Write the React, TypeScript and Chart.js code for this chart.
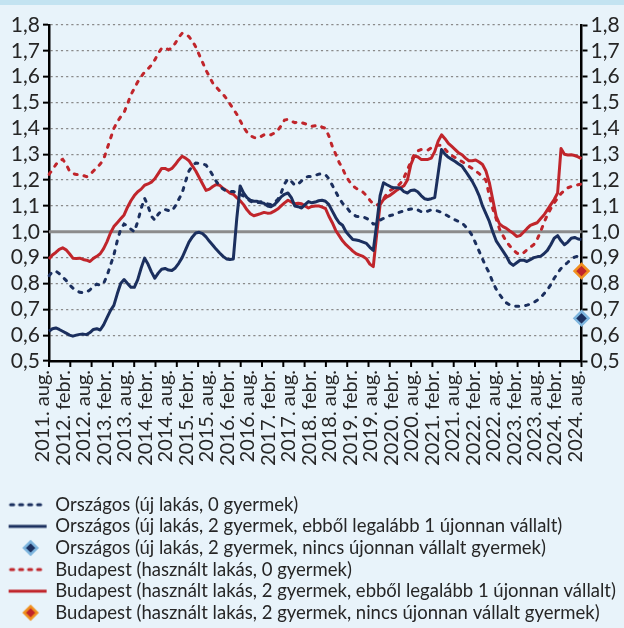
import React, { useEffect, useRef } from 'react';
import { Chart, registerables } from 'chart.js';

Chart.register(...registerables);

// ---------- categories (monthly, 2011. aug. – 2024. aug.) ----------
const HU_MONTHS = ['jan.', 'febr.', 'márc.', 'ápr.', 'máj.', 'jún.', 'júl.', 'aug.', 'szept.', 'okt.', 'nov.', 'dec.'];
const START_YEAR = 2011;
const START_MONTH = 7; // aug.
const N_MONTHS = 157;
const months: string[] = Array.from({ length: N_MONTHS }, (_, i) => {
  const m = START_MONTH + i;
  return `${START_YEAR + Math.floor(m / 12)}. ${HU_MONTHS[m % 12]}`;
});
const LABEL_EVERY = 6; // febr. / aug.
const X_TICK_DIVISIONS = 25;

// ---------- series ----------
const orszagosUj0 = [
  0.830, 0.845, 0.848, 0.838, 0.825, 0.812, 0.795, 0.782, 0.772, 0.766, 0.764, 0.766,
  0.775, 0.790, 0.797, 0.793, 0.800, 0.830, 0.870, 0.910, 0.965, 1.010, 1.030, 1.022,
  1.010, 1.000, 1.040, 1.090, 1.130, 1.100, 1.060, 1.045, 1.068, 1.082, 1.086, 1.082,
  1.080, 1.100, 1.125, 1.150, 1.195, 1.235, 1.255, 1.266, 1.265, 1.262, 1.258, 1.240,
  1.218, 1.195, 1.176, 1.165, 1.157, 1.156, 1.156, 1.150, 1.145, 1.138, 1.128, 1.118,
  1.112, 1.112, 1.116, 1.115, 1.108, 1.105, 1.112, 1.125, 1.150, 1.185, 1.205, 1.195,
  1.180, 1.185, 1.197, 1.210, 1.214, 1.214, 1.218, 1.223, 1.224, 1.221, 1.205, 1.180,
  1.155, 1.130, 1.110, 1.098, 1.080, 1.068, 1.060, 1.058, 1.058, 1.052, 1.045, 1.030,
  1.030, 1.045, 1.052, 1.058, 1.063, 1.066, 1.072, 1.077, 1.080, 1.085, 1.088, 1.090,
  1.085, 1.078, 1.075, 1.080, 1.085, 1.083, 1.080, 1.075, 1.068, 1.060, 1.052, 1.046,
  1.040, 1.035, 1.020, 1.005, 0.985, 0.955, 0.925, 0.895, 0.865, 0.840, 0.805, 0.778,
  0.757, 0.740, 0.725, 0.717, 0.713, 0.712, 0.712, 0.713, 0.716, 0.720, 0.726, 0.735,
  0.745, 0.760, 0.775, 0.795, 0.820, 0.840, 0.858, 0.870, 0.882, 0.895, 0.902, 0.906,
  0.910,
];

const orszagosUj2Vallalt = [
  0.615, 0.625, 0.628, 0.622, 0.615, 0.608, 0.600, 0.596, 0.600, 0.603, 0.604, 0.602,
  0.610, 0.622, 0.625, 0.620, 0.640, 0.668, 0.695, 0.715, 0.760, 0.800, 0.815, 0.800,
  0.785, 0.785, 0.815, 0.860, 0.898, 0.875, 0.845, 0.820, 0.840, 0.855, 0.858, 0.852,
  0.850, 0.860, 0.878, 0.900, 0.930, 0.960, 0.980, 0.995, 0.998, 0.993, 0.980, 0.963,
  0.948, 0.932, 0.918, 0.905, 0.895, 0.893, 0.895, 1.050, 1.177, 1.150, 1.132, 1.122,
  1.118, 1.118, 1.112, 1.110, 1.100, 1.097, 1.105, 1.118, 1.135, 1.145, 1.150, 1.132,
  1.100, 1.097, 1.092, 1.105, 1.117, 1.112, 1.115, 1.120, 1.122, 1.118, 1.105, 1.080,
  1.055, 1.035, 1.025, 1.000, 0.985, 0.970, 0.968, 0.965, 0.960, 0.955, 0.940, 0.928,
  1.030, 1.140, 1.190, 1.182, 1.175, 1.170, 1.170, 1.168, 1.155, 1.150, 1.160, 1.162,
  1.155, 1.140, 1.128, 1.125, 1.128, 1.132, 1.225, 1.318, 1.300, 1.288, 1.280, 1.272,
  1.262, 1.254, 1.235, 1.215, 1.195, 1.170, 1.140, 1.100, 1.070, 1.040, 1.000, 0.965,
  0.945, 0.925, 0.905, 0.880, 0.870, 0.880, 0.890, 0.890, 0.885, 0.892, 0.900, 0.903,
  0.905, 0.915, 0.928, 0.950, 0.975, 0.985, 0.965, 0.950, 0.960, 0.975, 0.978, 0.972,
  0.970,
];

const orszagosUj2Nincs = 0.665; // 2024. aug.

const budapestHasznalt0 = [
  1.222, 1.240, 1.260, 1.275, 1.280, 1.262, 1.235, 1.225, 1.222, 1.222, 1.218, 1.213,
  1.220, 1.235, 1.248, 1.262, 1.280, 1.320, 1.360, 1.400, 1.425, 1.445, 1.462, 1.495,
  1.530, 1.555, 1.580, 1.600, 1.618, 1.630, 1.645, 1.665, 1.690, 1.710, 1.712, 1.705,
  1.710, 1.730, 1.752, 1.768, 1.765, 1.755, 1.738, 1.715, 1.685, 1.655, 1.625, 1.600,
  1.575, 1.560, 1.545, 1.532, 1.515, 1.495, 1.475, 1.455, 1.430, 1.405, 1.385, 1.372,
  1.365, 1.362, 1.368, 1.375, 1.378, 1.375, 1.382, 1.392, 1.410, 1.432, 1.435, 1.428,
  1.422, 1.425, 1.422, 1.418, 1.412, 1.408, 1.410, 1.412, 1.405, 1.400, 1.370, 1.330,
  1.300, 1.268, 1.245, 1.215, 1.195, 1.178, 1.168, 1.160, 1.153, 1.140, 1.122, 1.108,
  1.103, 1.110, 1.128, 1.148, 1.160, 1.168, 1.175, 1.188, 1.210, 1.240, 1.270, 1.300,
  1.313, 1.318, 1.317, 1.316, 1.325, 1.330, 1.335, 1.335, 1.320, 1.305, 1.295, 1.287,
  1.278, 1.272, 1.262, 1.253, 1.245, 1.235, 1.225, 1.212, 1.200, 1.140, 1.090, 1.050,
  1.010, 0.985, 0.962, 0.945, 0.930, 0.918, 0.912, 0.918, 0.930, 0.940, 0.950, 0.970,
  1.000, 1.035, 1.065, 1.090, 1.112, 1.130, 1.148, 1.160, 1.170, 1.175, 1.178, 1.182,
  1.185,
];

const budapestHasznalt2Vallalt = [
  0.895, 0.910, 0.920, 0.932, 0.938, 0.930, 0.915, 0.898, 0.897, 0.898, 0.893, 0.890,
  0.885, 0.897, 0.905, 0.915, 0.935, 0.962, 0.995, 1.020, 1.035, 1.050, 1.065, 1.095,
  1.120, 1.140, 1.155, 1.165, 1.180, 1.185, 1.192, 1.205, 1.225, 1.245, 1.245, 1.238,
  1.245, 1.260, 1.278, 1.292, 1.285, 1.275, 1.255, 1.235, 1.210, 1.185, 1.160, 1.165,
  1.175, 1.183, 1.180, 1.168, 1.160, 1.150, 1.145, 1.132, 1.120, 1.105, 1.085, 1.070,
  1.062, 1.066, 1.070, 1.075, 1.072, 1.073, 1.080, 1.088, 1.100, 1.112, 1.122, 1.115,
  1.108, 1.110, 1.108, 1.100, 1.092, 1.098, 1.100, 1.100, 1.095, 1.090, 1.060, 1.035,
  1.005, 0.985, 0.965, 0.950, 0.938, 0.925, 0.915, 0.910, 0.905, 0.895, 0.875, 0.865,
  0.990, 1.105, 1.125, 1.135, 1.142, 1.152, 1.162, 1.170, 1.178, 1.200, 1.260, 1.292,
  1.290, 1.280, 1.280, 1.280, 1.285, 1.310, 1.350, 1.375, 1.360, 1.342, 1.330, 1.318,
  1.305, 1.298, 1.285, 1.275, 1.275, 1.278, 1.270, 1.260, 1.235, 1.190, 1.125, 1.060,
  1.030, 1.020, 1.013, 1.003, 0.994, 0.982, 0.985, 0.998, 1.012, 1.025, 1.030, 1.035,
  1.050, 1.065, 1.085, 1.105, 1.125, 1.150, 1.322, 1.300, 1.297, 1.298, 1.295, 1.290,
  1.283,
];

const budapestHasznalt2Nincs = 0.848; // 2024. aug.

const SERIES_LABELS = [
  'Országos (új lakás, 0 gyermek)',
  'Országos (új lakás, 2 gyermek, ebből legalább 1 újonnan vállalt)',
  'Országos (új lakás, 2 gyermek, nincs újonnan vállalt gyermek)',
  'Budapest (használt lakás, 0 gyermek)',
  'Budapest (használt lakás, 2 gyermek, ebből legalább 1 újonnan vállalt)',
  'Budapest (használt lakás, 2 gyermek, nincs újonnan vállalt gyermek)',
];

const Y_MIN = 0.5;
const Y_MAX = 1.8;
const Y_STEP = 0.1;
const REF_VALUE = 1.0;

// ---------- style ----------
const BG = '#e8f3fa';
const TOP_BAND = '#c3e3f1';
const NAVY = '#1b2f5e';
const RED = '#c0252b';
const LIGHT_BLUE = '#7db5de';
const ORANGE = '#f0901e';
const GRID = '#8a8a8a';
const TEXT = '#262626';
const FONT = 'Lato, "Open Sans", sans-serif';
const LINE_W = 3;
const DASH = [3, 7];

const CANVAS_W = 624;
const CANVAS_H = 632;
const LEGEND_FONT = 18.5;
const LEGEND_PAD = 3.1;
const PLOT_TOP = 25;
const PLOT_BOTTOM = 361;
const PLOT_LEFT = 49;
const PLOT_RIGHT = 581.5;
const TICK_FONT = 21;

function makeMarker(kind: 'dash' | 'solid' | 'diamond', stroke: string, fill?: string) {
  const c = document.createElement('canvas');
  c.width = 52;
  c.height = 18;
  const g = c.getContext('2d')!;
  if (kind === 'diamond') {
    const cx = 32, cy = 9, r = 6.5;
    g.beginPath();
    g.moveTo(cx - r, cy);
    g.lineTo(cx, cy - r);
    g.lineTo(cx + r, cy);
    g.lineTo(cx, cy + r);
    g.closePath();
    g.fillStyle = fill || stroke;
    g.fill();
    g.lineWidth = 2.5;
    g.strokeStyle = stroke;
    g.stroke();
  } else {
    g.beginPath();
    g.strokeStyle = stroke;
    g.lineWidth = LINE_W;
    if (kind === 'dash') {
      g.setLineDash([3, 6]);
      g.lineCap = 'round';
      g.moveTo(12, 9);
    } else {
      g.moveTo(10, 9);
    }
    g.lineTo(48, 9);
    g.stroke();
  }
  return c;
}

const extrasPlugin = {
  id: 'extras',
  beforeDatasetsDraw(chart: any) {
    const { ctx, chartArea, scales } = chart;
    const y = scales.y.getPixelForValue(REF_VALUE);
    ctx.save();
    ctx.strokeStyle = '#8c8c8c';
    ctx.lineWidth = 3;
    ctx.beginPath();
    ctx.moveTo(chartArea.left, y);
    ctx.lineTo(chartArea.right, y);
    ctx.stroke();
    ctx.restore();
  },
  afterDraw(chart: any) {
    const { ctx, chartArea } = chart;
    ctx.save();
    ctx.strokeStyle = '#000';
    ctx.lineWidth = 2;
    for (let k = 0; k <= X_TICK_DIVISIONS; k++) {
      const x = chartArea.left + ((chartArea.right - chartArea.left) * k) / X_TICK_DIVISIONS;
      ctx.beginPath();
      ctx.moveTo(x, chartArea.bottom);
      ctx.lineTo(x, chartArea.bottom + 6);
      ctx.stroke();
    }
    ctx.restore();
  },
};

export default function App() {
  const canvasRef = useRef<HTMLCanvasElement | null>(null);

  useEffect(() => {
    let chart: Chart | null = null;
    let cancelled = false;

    const build = () => {
      if (cancelled || !canvasRef.current) return;
      Chart.defaults.font.family = FONT;
      Chart.defaults.color = TEXT;

      const markers = [
        makeMarker('dash', NAVY),
        makeMarker('solid', NAVY),
        makeMarker('diamond', LIGHT_BLUE, NAVY),
        makeMarker('dash', RED),
        makeMarker('solid', RED),
        makeMarker('diamond', ORANGE, RED),
      ];

      const lastMonth = months[N_MONTHS - 1];
      const legendHeight = 6 * (LEGEND_FONT + LEGEND_PAD) + 10;
      const xAxisHeight = CANVAS_H - legendHeight - PLOT_BOTTOM;

      const yTickLabel = (v: any) => Number(v).toFixed(1).replace('.', ',');

      chart = new Chart(canvasRef.current, {
        type: 'line',
        data: {
          labels: months,
          datasets: [
            {
              label: SERIES_LABELS[0],
              data: orszagosUj0,
              borderColor: NAVY,
              borderWidth: LINE_W,
              borderDash: DASH,
              borderCapStyle: 'round',
              pointRadius: 0,
              tension: 0,
            },
            {
              label: SERIES_LABELS[1],
              data: orszagosUj2Vallalt,
              borderColor: NAVY,
              borderWidth: LINE_W,
              borderJoinStyle: 'round',
              pointRadius: 0,
              tension: 0,
            },
            {
              label: SERIES_LABELS[2],
              data: [{ x: lastMonth, y: orszagosUj2Nincs }],
              showLine: false,
              pointStyle: 'rectRot',
              pointRadius: 7,
              pointBackgroundColor: NAVY,
              pointBorderColor: LIGHT_BLUE,
              pointBorderWidth: 2.5,
              clip: false,
            },
            {
              label: SERIES_LABELS[3],
              data: budapestHasznalt0,
              borderColor: RED,
              borderWidth: LINE_W,
              borderDash: DASH,
              borderCapStyle: 'round',
              pointRadius: 0,
              tension: 0,
            },
            {
              label: SERIES_LABELS[4],
              data: budapestHasznalt2Vallalt,
              borderColor: RED,
              borderWidth: LINE_W,
              borderJoinStyle: 'round',
              pointRadius: 0,
              tension: 0,
            },
            {
              label: SERIES_LABELS[5],
              data: [{ x: lastMonth, y: budapestHasznalt2Nincs }],
              showLine: false,
              pointStyle: 'rectRot',
              pointRadius: 7,
              pointBackgroundColor: RED,
              pointBorderColor: ORANGE,
              pointBorderWidth: 2.5,
              clip: false,
            },
          ] as any,
        },
        options: {
          responsive: false,
          animation: false,
          devicePixelRatio: 1,
          layout: { padding: { top: PLOT_TOP, left: 0, right: 0, bottom: 0 } },
          plugins: {
            tooltip: { enabled: false },
            legend: {
              position: 'bottom',
              align: 'start',
              labels: {
                usePointStyle: true,
                pointStyleWidth: 43,
                padding: LEGEND_PAD,
                color: TEXT,
                font: { family: FONT, size: LEGEND_FONT },
                generateLabels: () =>
                  SERIES_LABELS.map((text, i) => ({
                    text,
                    pointStyle: markers[i] as any,
                    fillStyle: 'rgba(0,0,0,0)',
                    strokeStyle: 'rgba(0,0,0,0)',
                    lineWidth: 0,
                    hidden: false,
                    datasetIndex: i,
                    fontColor: TEXT,
                  })),
              },
            },
          },
          scales: {
            x: {
              type: 'category',
              offset: false,
              grid: { display: false, drawTicks: false },
              border: { display: true, color: '#000', width: 2.5 },
              ticks: {
                autoSkip: false,
                maxRotation: 90,
                minRotation: 90,
                padding: 9,
                labelOffset: -6,
                color: TEXT,
                font: { family: FONT, size: 20 },
                callback: (_v: any, index: number) => (index % LABEL_EVERY === 0 ? months[index] : null),
              },
              afterFit: (s: any) => {
                s.height = xAxisHeight;
              },
            },
            y: {
              position: 'left',
              min: Y_MIN,
              max: Y_MAX,
              grid: {
                color: (ctx: any) =>
                  ctx.tick && Math.abs(ctx.tick.value - REF_VALUE) < 1e-6 ? 'rgba(0,0,0,0)' : GRID,
                lineWidth: 1.3,
                tickColor: '#000',
                tickLength: 6,
                tickWidth: 2,
              },
              border: { display: true, color: '#000', width: 2.5, dash: [2.2, 3] },
              ticks: {
                stepSize: Y_STEP,
                autoSkip: false,
                padding: 3,
                color: TEXT,
                font: { family: FONT, size: TICK_FONT },
                callback: yTickLabel,
              },
              afterFit: (s: any) => {
                s.width = PLOT_LEFT;
              },
            },
            y2: {
              position: 'right',
              min: Y_MIN,
              max: Y_MAX,
              grid: {
                drawOnChartArea: false,
                tickColor: '#000',
                tickLength: 6,
                tickWidth: 2,
              },
              border: { display: true, color: '#000', width: 2.5 },
              ticks: {
                stepSize: Y_STEP,
                autoSkip: false,
                padding: 3,
                color: TEXT,
                font: { family: FONT, size: TICK_FONT },
                callback: yTickLabel,
              },
              afterFit: (s: any) => {
                s.width = CANVAS_W - PLOT_RIGHT;
              },
            },
          },
        } as any,
        plugins: [extrasPlugin],
      });
    };

    const fontsReady = (document as any).fonts
      ? Promise.all([
          (document as any).fonts.load(`20px Lato`),
          (document as any).fonts.load(`18px Lato`),
        ]).catch(() => null)
      : Promise.resolve(null);
    fontsReady.then(build);

    return () => {
      cancelled = true;
      if (chart) chart.destroy();
    };
  }, []);

  return (
    <div
      style={{
        position: 'absolute',
        left: 0,
        top: 0,
        width: CANVAS_W,
        height: 628,
        overflow: 'hidden',
        background: BG,
      }}
    >
      <div style={{ position: 'absolute', left: 0, top: 0, width: CANVAS_W, height: 5, background: TOP_BAND }} />
      <canvas
        ref={canvasRef}
        width={CANVAS_W}
        height={CANVAS_H}
        style={{ position: 'absolute', left: 0, top: 0, display: 'block', width: CANVAS_W, height: CANVAS_H }}
      />
    </div>
  );
}
